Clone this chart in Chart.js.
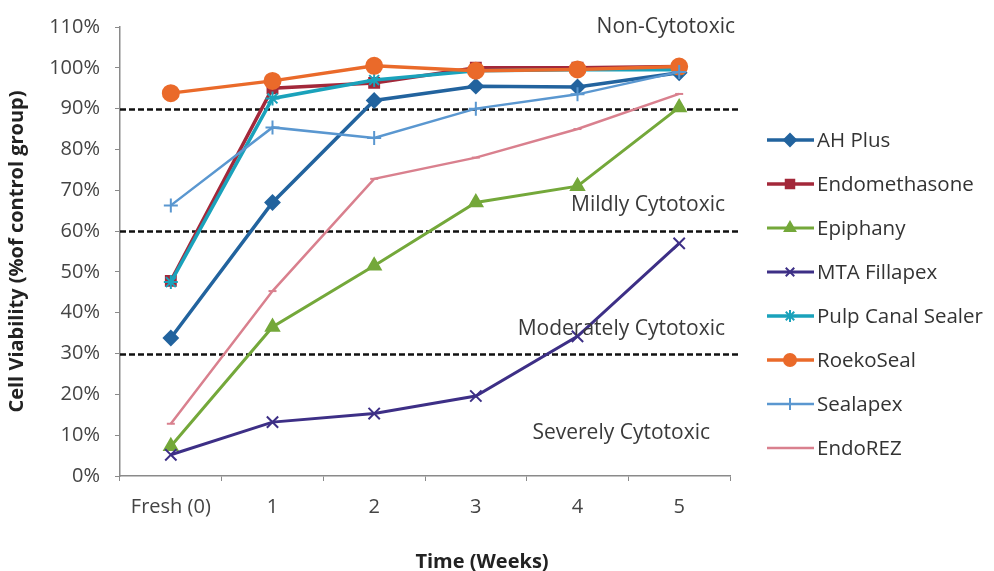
<!DOCTYPE html>
<html>
<head>
<meta charset="utf-8">
<script src="https://cdn.jsdelivr.net/npm/chart.js@4"></script>
<style>
  body { margin: 0; background: #fff; }
  #wrap { width: 994px; height: 571px; }
</style>
</head>
<body>
<div id="wrap"><canvas id="myChart"></canvas></div>
<script>
const weeks = ['Fresh (0)', '1', '2', '3', '4', '5'];

const ahPlus = [33.8, 67, 92, 95.5, 95.3, 98.8];
const endomethasone = [47.8, 95, 96.3, 100, 100, 100.3];
const epiphany = [7.3, 36.5, 51.5, 67, 71, 90.3];
const mtaFillapex = [5.2, 13.2, 15.3, 19.6, 34.2, 57];
const pulpCanalSealer = [47.5, 92.5, 97, 99.3, 99.5, 99.5];
const roekoSeal = [93.8, 96.8, 100.5, 99.3, 99.6, 100.3];
const sealapex = [66.3, 85.4, 82.8, 90, 93.5, 99];
const endoRez = [12.8, 45.3, 72.8, 78, 85, 93.6];

const yTicks = [0, 10, 20, 30, 40, 50, 60, 70, 80, 90, 100, 110];
const thresholds = [30, 60, 90];
const zoneLabels = [
    {text: 'Non-Cytotoxic', value: 110},
    {text: 'Mildly Cytotoxic', value: 66.5},
    {text: 'Moderately Cytotoxic', value: 36},
    {text: 'Severely Cytotoxic', value: 10.5}
];

const fontFamily = '"Open Sans", Lato, sans-serif';

const series = [
    {label: 'AH Plus', data: ahPlus, color: '#22639e', style: 'rectRot', radius: 7, width: 3.5},
    {label: 'Endomethasone', data: endomethasone, color: '#a3283a', style: 'rect', radius: 7, width: 3.5},
    {label: 'Epiphany', data: epiphany, color: '#74a83a', style: 'triangle', radius: 7.5, width: 3},
    {label: 'MTA Fillapex', data: mtaFillapex, color: '#3d2f86', style: 'crossRot', radius: 8, width: 3},
    {label: 'Pulp Canal Sealer', data: pulpCanalSealer, color: '#1aa2bb', style: 'star', radius: 7, width: 3.5},
    {label: 'RoekoSeal', data: roekoSeal, color: '#ea6a2a', style: 'circle', radius: 8, width: 3.5},
    {label: 'Sealapex', data: sealapex, color: '#5a97d0', style: 'cross', radius: 7, width: 2.5},
    {label: 'EndoREZ', data: endoRez, color: '#d9808e', style: 'line', radius: 4, width: 2.5}
];

const datasets = series.map((s, i) => ({
    label: s.label,
    data: s.data,
    borderColor: s.color,
    backgroundColor: s.color,
    borderWidth: s.width,
    pointStyle: s.style,
    pointRadius: s.radius,
    pointBorderWidth: 2,
    pointBackgroundColor: s.color,
    pointBorderColor: s.color,
    tension: 0,
    order: series.length - i
}));

// dashed threshold lines, zone texts and x title
const zonesPlugin = {
    id: 'zones',
    beforeDatasetsDraw(chart) {
        const ctx = chart.ctx;
        const y = chart.scales.y;
        const area = chart.chartArea;
        ctx.save();
        ctx.strokeStyle = '#111';
        ctx.lineWidth = 2.5;
        ctx.setLineDash([6, 3]);
        thresholds.forEach(t => {
            const py = Math.round(y.getPixelForValue(t)) + 0.5;
            ctx.beginPath();
            ctx.moveTo(area.left, py);
            ctx.lineTo(area.right + 8, py);
            ctx.stroke();
        });
        ctx.restore();
    },
    afterDatasetsDraw(chart) {
        const ctx = chart.ctx;
        const y = chart.scales.y;
        const area = chart.chartArea;
        ctx.save();
        ctx.font = '21px ' + fontFamily;
        ctx.fillStyle = '#3a3a3a';
        ctx.textAlign = 'right';
        ctx.textBaseline = 'middle';
        const rights = [area.right + 5, area.right - 5, area.right - 5, area.right - 20];
        zoneLabels.forEach((z, i) => {
            ctx.fillText(z.text, rights[i], y.getPixelForValue(z.value));
        });
        // axis title is not centred on the plot in the original
        ctx.font = 'bold 20px ' + fontFamily;
        ctx.fillStyle = '#222';
        ctx.textAlign = 'center';
        ctx.fillText('Time (Weeks)', (area.left + area.right) / 2 + 57, area.bottom + 86);
        ctx.restore();
    }
};

// legend drawn as line + marker like the original
const legendPlugin = {
    id: 'sideLegend',
    afterDraw(chart) {
        const ctx = chart.ctx;
        const area = chart.chartArea;
        const x0 = area.right + 37;
        ctx.save();
        ctx.font = '20.5px ' + fontFamily;
        ctx.textBaseline = 'middle';
        chart.data.datasets.forEach((ds, i) => {
            const yy = 140 + i * 44;
            ctx.strokeStyle = ds.borderColor;
            ctx.fillStyle = ds.borderColor;
            ctx.lineWidth = ds.borderWidth;
            ctx.setLineDash([]);
            ctx.beginPath();
            ctx.moveTo(x0, yy);
            ctx.lineTo(x0 + 47, yy);
            ctx.stroke();
            ctx.lineWidth = 2;
            Chart.helpers.drawPoint(ctx, {pointStyle: ds.pointStyle, radius: Math.min(ds.pointRadius, 6), borderWidth: 2, rotation: 0}, x0 + 23, yy);
            ctx.fillStyle = '#333';
            ctx.fillText(ds.label, x0 + 50, yy + 1);
        });
        ctx.restore();
    }
};

const config = {
    type: 'line',
    data: {
        labels: weeks,
        datasets: datasets
    },
    options: {
        responsive: true,
        maintainAspectRatio: false,
        animation: false,
        layout: {
            padding: {left: 0, right: 264, top: 22, bottom: 0}
        },
        plugins: {
            legend: {display: false},
            tooltip: {enabled: false}
        },
        scales: {
            x: {
                type: 'category',
                offset: true,
                grid: {
                    offset: true,
                    drawOnChartArea: false,
                    drawTicks: true,
                    tickLength: 5,
                    color: '#8a8a8a'
                },
                border: {color: '#8a8a8a', width: 1.5},
                ticks: {
                    color: '#444',
                    font: {family: fontFamily, size: 20},
                    padding: 14
                },
                afterFit(scale) { scale.height = 95; }
            },
            y: {
                min: 0,
                max: 110,
                afterBuildTicks(scale) { scale.ticks = yTicks.map(v => ({value: v})); },
                grid: {
                    drawOnChartArea: false,
                    drawTicks: true,
                    tickLength: 5,
                    color: '#8a8a8a'
                },
                border: {color: '#8a8a8a', width: 1.5},
                ticks: {
                    color: '#444',
                    font: {family: fontFamily, size: 20},
                    padding: 15,
                    callback: v => v + '%'
                },
                title: {
                    display: true,
                    text: 'Cell Viability (%of control group)',
                    color: '#222',
                    font: {family: fontFamily, size: 20, weight: 'bold'},
                    padding: {top: 5, bottom: 2}
                },
                afterFit(scale) { scale.width = 120; }
            }
        }
    },
    plugins: [zonesPlugin, legendPlugin]
};

var myChart = new Chart(document.getElementById('myChart'), config);
</script>
</body>
</html>
